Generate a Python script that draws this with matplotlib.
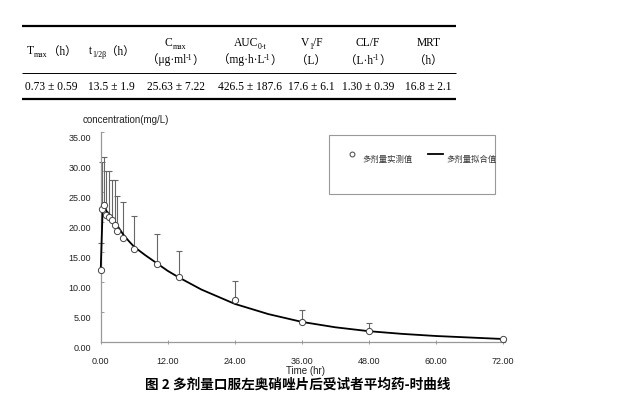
import matplotlib
matplotlib.use('Agg')
import matplotlib.pyplot as plt
from matplotlib.lines import Line2D
from matplotlib.patches import Rectangle
from matplotlib.transforms import ScaledTranslation

SERIF = ['Liberation Serif', 'Noto Sans CJK SC']
SANS = ['Liberation Sans', 'Noto Sans CJK SC']
CJK = ['Noto Sans CJK SC', 'DejaVu Sans']

# table of pk parameters (mean ± sd)
header_top = [
    [('T', ''), ('max', 'sub'), ('（h）', '')],
    [('t', ''), ('1/2β', 'sub'), ('（h）', '')],
    [('C', ''), ('max', 'sub')],
    [('AUC', ''), ('0-t', 'sub')],
    [('V', ''), ('1', 'sub'), ('/F', '')],
    [('CL/F', '')],
    [('MRT', '')],
]
header_units = [
    None,
    None,
    [('（μg·ml', ''), ('-1', 'sup'), ('）', '')],
    [('（mg·h·L', ''), ('-1', 'sup'), ('）', '')],
    [('（L）', '')],
    [('（L·h', ''), ('-1', 'sup'), ('）', '')],
    [('（h）', '')],
]
param_values = ['0.73 ± 0.59', '13.5 ± 1.9', '25.63 ± 7.22', '426.5 ± 187.6',
                '17.6 ± 6.1', '1.30 ± 0.39', '16.8 ± 2.1']

# observed mean concentration and sd (mg/L)
time_obs = [0, 0.25, 0.5, 1, 1.5, 2, 2.5, 3, 4, 6, 10, 14, 24, 36, 48, 72]
conc_obs = [12.1, 22.2, 22.9, 21.3, 20.9, 20.4, 19.6, 18.6, 17.4, 15.5, 13.05, 10.9, 7.1, 3.4, 1.9, 0.55]
conc_sd = [4.4, 7.9, 8.0, 7.3, 7.7, 6.65, 7.45, 5.8, 6.0, 5.6, 4.95, 4.4, 3.2, 2.0, 1.4, 0.0]

# fitted curve
time_fit = [0, 0.35, 0.6, 1, 1.5, 2, 3, 4, 5, 6, 8, 10, 12, 14, 18, 21, 24,
            30, 36, 42, 48, 54, 60, 66, 72]
conc_fit = [12.1, 22.3, 22.5, 21.9, 21.4, 20.8, 19.4, 18.0, 16.9, 15.9, 14.5, 13.2, 11.9, 10.8, 8.8, 7.6, 6.4,
            4.7, 3.4, 2.5, 1.85, 1.4, 1.05, 0.8, 0.55]

x_ticks = [0, 12, 24, 36, 48, 60, 72]
y_ticks = [0, 5, 10, 15, 20, 25, 30, 35]

fig = plt.figure(figsize=(6.26, 4), dpi=100)
ax = fig.add_axes([0.1609, 0.14425, 0.6459, 0.525])

# overlay in pixel units for table, legend and texts
ax0 = fig.add_axes([0, 0, 1, 1], zorder=5)
ax0.set_xlim(0, 626)
ax0.set_ylim(400, 0)
ax0.axis('off')

# ---- chart ----
zeros = [0] * len(conc_sd)
ax.errorbar(time_obs, conc_obs, yerr=[zeros, conc_sd], fmt='none', ecolor='#666666',
            elinewidth=0.8, capsize=2, capthick=0.8, zorder=2, clip_on=False)
ax.plot(time_fit, conc_fit, color='black', lw=1.3, zorder=3, clip_on=False)
ax.plot(time_obs, conc_obs, 'o', mfc='white', mec='#444444', ms=4.5, mew=0.7, zorder=4, clip_on=False)

ax.set_xlim(0, 72.36)
ax.set_ylim(0, 35)
ax.set_xticks(x_ticks)
ax.set_xticklabels(['%.2f' % v for v in x_ticks])
ax.set_yticks(y_ticks)
ax.set_yticklabels(['%.2f' % v for v in y_ticks])
for s in ['top', 'right']:
    ax.spines[s].set_visible(False)
for s in ['left', 'bottom']:
    ax.spines[s].set_color('#999999')
    ax.spines[s].set_linewidth(0.9)
ax.tick_params(axis='x', direction='inout', length=2.5, width=0.7, color='#999999',
               pad=9, labelsize=6.5, labelcolor='#222222')
ax.tick_params(axis='y', direction='in', length=2.2, width=0.7, color='#999999',
               pad=7, labelsize=6.5, labelcolor='#222222')
for lbl in ax.get_xticklabels() + ax.get_yticklabels():
    lbl.set_family(SANS)
shift = ScaledTranslation(0, -0.055, fig.dpi_scale_trans)
for lbl in ax.get_yticklabels():
    lbl.set_transform(lbl.get_transform() + shift)

ax0.text(82.7, 120, 'concentration(mg/L)', ha='left', va='center', fontsize=7,
         family=SANS, color='#222222')
ax0.text(305.7, 371.3, 'Time (hr)', ha='center', va='center', fontsize=7,
         family=SANS, color='#222222')

# legend box
ax0.add_patch(Rectangle((329.3, 135), 166, 59.3, fill=False, edgecolor='#999999', lw=0.8))
ax0.add_line(Line2D([352], [154], marker='o', mfc='white', mec='#444444', ms=3.5, mew=0.7))
ax0.text(362.7, 159, '多剂量实测值', ha='left', va='center', fontsize=6, family=CJK, color='#333333')
ax0.add_line(Line2D([428, 443], [154.3, 154.3], color='black', lw=1.3))
ax0.text(446, 159, '多剂量拟合值', ha='left', va='center', fontsize=6, family=CJK, color='#333333')

# caption
ax0.text(298, 384.5, '图 2 多剂量口服左奥硝唑片后受试者平均药-时曲线', ha='center', va='center',
         fontsize=9.8, fontweight='bold', family=CJK, color='black')

# ---- table ----
col_x = [51.7, 111.7, 175.5, 250, 311.5, 368, 428.3]
renderer = fig.canvas.get_renderer()


def rich(cx, base, parts, size=8.3):
    texts = []
    for s, kind in parts:
        fs = size if kind == '' else size * 0.68
        dy = 0 if kind == '' else (2.2 if kind == 'sub' else -4.0)
        t = ax0.text(0, base + dy, s, ha='left', va='baseline', fontsize=fs, family=SERIF)
        texts.append(t)
    widths = [t.get_window_extent(renderer).width for t in texts]
    x = cx - sum(widths) / 2
    for t, w in zip(texts, widths):
        t.set_x(x)
        x += w


for i, cx in enumerate(col_x):
    if header_units[i] is None:
        rich(cx, 54.5, header_top[i])
    else:
        rich(cx, 46.5, header_top[i])
        rich(cx, 63.5, header_units[i])
    ax0.text(cx, 89.7, param_values[i], ha='center', va='baseline', fontsize=8.3, family=SERIF)

ax0.plot([21.7, 456], [25.7, 25.7], color='black', lw=1.6, solid_capstyle='butt')
ax0.plot([21.7, 456], [72.7, 72.7], color='black', lw=0.7, solid_capstyle='butt')
ax0.plot([21.7, 456], [98.7, 98.7], color='black', lw=1.6, solid_capstyle='butt')

fig.savefig('out.png', dpi=100)
